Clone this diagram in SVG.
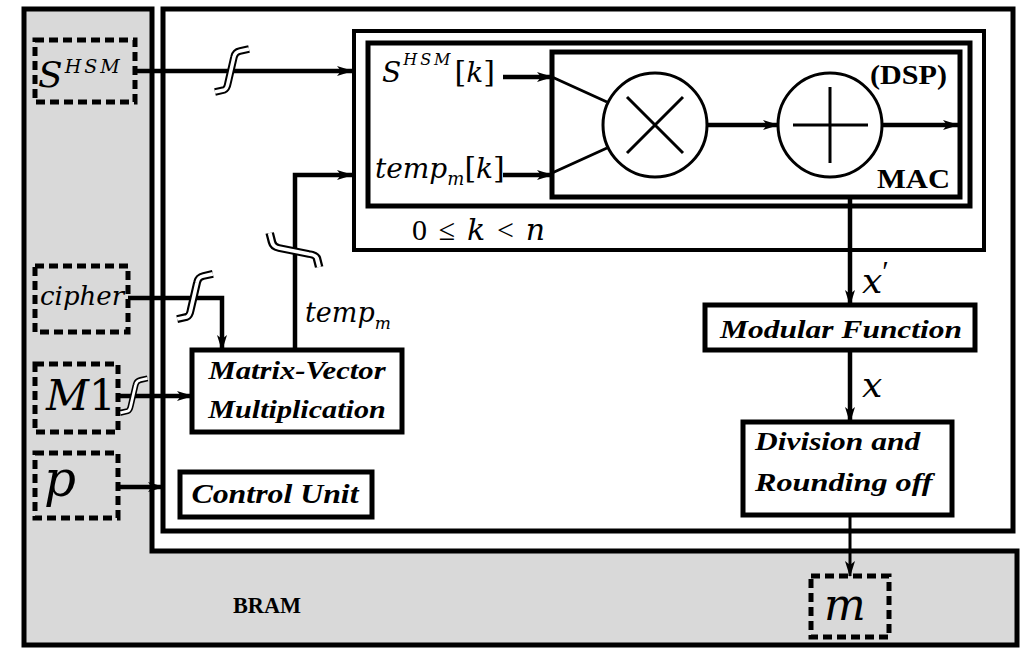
<svg xmlns="http://www.w3.org/2000/svg" width="1028" height="649" viewBox="0 0 1028 649">
<defs>
<style>
.box{fill:#fff;stroke:#000;stroke-width:5}
.nest{fill:none;stroke:#000;stroke-width:5}
.dash{fill:none;stroke:#000;stroke-width:5;stroke-dasharray:9 5}
.conn{fill:none;stroke:#000;stroke-width:4.5}
.thin{fill:none;stroke:#000;stroke-width:3}
text{font-family:'Liberation Serif','Times New Roman',serif;fill:#000}
.math{font-family:'DejaVu Serif',serif;font-style:italic;font-weight:300}
.up{font-style:normal}
.prime{font-family:'Liberation Serif',serif;font-style:normal}
.lbl{font-weight:bold;font-style:italic;font-size:26px}
.bold{font-weight:bold}
</style>
<marker id="ah" viewBox="0 0 16 10" refX="15" refY="5" markerWidth="16" markerHeight="10" markerUnits="userSpaceOnUse" orient="auto"><path d="M0,0 L16,5 L0,10 L4,5 z" fill="#000"/></marker>
<g id="brk">
<path d="M-17,21 L-8,19 Q-5,18 -4,12 L2,-14 Q3,-19 8,-20 L17,-22" fill="none" stroke="#000" stroke-width="7.5"/>
<path d="M-17,21 L-8,19 Q-5,18 -4,12 L2,-14 Q3,-19 8,-20 L17,-22" fill="none" stroke="#fff" stroke-width="3.5"/>
</g>
</defs>
<rect width="1028" height="649" fill="#fff"/>

<g id="bram">
<path d="M24,9 H152 V551 H1017 V645 H24 Z" fill="#d9d9d9" stroke="#000" stroke-width="5"/>
<text class="bold" x="233" y="613" font-size="24" textLength="68" lengthAdjust="spacingAndGlyphs">BRAM</text>
</g>

<g id="fpga">
<rect x="163" y="9" width="850" height="522" class="box"/>
</g>

<g id="s-hsm">
<rect x="35" y="40" width="100" height="62" class="dash"/>
<text class="math" x="38" y="87" font-size="36">S<tspan font-size="19" dy="-14" dx="2" letter-spacing="3">HSM</tspan></text>
</g>

<g id="cipher">
<rect x="35" y="266" width="93" height="66" class="dash"/>
<text class="math" x="40" y="305" font-size="26">cipher</text>
</g>

<g id="m1">
<rect x="35" y="364" width="83" height="68" class="dash"/>
<text class="math" x="46" y="410" font-size="42">M<tspan class="up">1</tspan></text>
</g>

<g id="p">
<rect x="35" y="453" width="83" height="65" class="dash"/>
<text class="math" x="44" y="496" font-size="50">p</text>
</g>

<g id="m">
<rect x="811" y="576" width="78" height="61" class="dash"/>
<text class="math" x="824" y="620" font-size="44">m</text>
</g>

<g id="loop">
<rect x="354" y="31" width="630" height="219" fill="none" stroke="#000" stroke-width="4"/>
<text x="412" y="240" font-size="30" textLength="133" lengthAdjust="spacing">0 ≤ <tspan class="math">k</tspan> &lt; <tspan class="math">n</tspan></text>
</g>

<g id="inner">
<rect x="368" y="43" width="602" height="163" class="nest"/>
<text class="math" x="382" y="82" font-size="28">S<tspan font-size="16" dy="-17" dx="2" letter-spacing="3">HSM</tspan><tspan class="up" font-size="30" dy="17" dx="1">[</tspan>k<tspan class="up" font-size="30">]</tspan></text>
<text class="math" x="375" y="178" font-size="28">temp<tspan font-size="18" dy="7">m</tspan><tspan class="up" font-size="30" dy="-7">[</tspan>k<tspan class="up" font-size="30">]</tspan></text>
</g>

<g id="mac">
<rect x="552" y="52" width="408" height="145" class="nest"/>
<circle cx="655" cy="125" r="52" class="thin"/>
<path d="M627,97 L683,153 M627,153 L683,97" class="thin"/>
<circle cx="830" cy="125" r="52" class="thin"/>
<path d="M793,125 H868 M830,87 V163" class="thin"/>
<text class="bold" x="870" y="84" font-size="28" textLength="77" lengthAdjust="spacingAndGlyphs">(DSP)</text>
<text class="bold" x="877" y="188" font-size="28" textLength="73" lengthAdjust="spacingAndGlyphs">MAC</text>
</g>

<g id="matvec">
<rect x="192" y="350" width="210" height="82" class="box"/>
<text class="lbl" transform="translate(297,379) scale(1.18,1)" text-anchor="middle">Matrix-Vector</text>
<text class="lbl" transform="translate(297,418) scale(1.16,1)" text-anchor="middle">Multiplication</text>
</g>

<g id="control">
<rect x="180" y="472" width="192" height="45" class="box"/>
<text class="lbl" transform="translate(275,503) scale(1.2,1)" text-anchor="middle" style="font-size:26.5px">Control Unit</text>
</g>

<g id="modular">
<rect x="705" y="305" width="270" height="45" class="box"/>
<text class="lbl" transform="translate(841,338) scale(1.21,1)" text-anchor="middle">Modular Function</text>
</g>

<g id="division">
<rect x="743" y="422" width="209" height="93" class="box"/>
<text class="lbl" transform="translate(755,450) scale(1.21,1)">Division and</text>
<text class="lbl" transform="translate(755,491) scale(1.24,1)">Rounding off</text>
</g>

<g id="connectors">
<path d="M135,71 H352" class="conn" marker-end="url(#ah)"/>
<path d="M295,350 V175 H352" class="conn" marker-end="url(#ah)"/>
<path d="M128,298 H222 V350" class="conn" marker-end="url(#ah)"/>
<path d="M118,396 H192" class="conn" marker-end="url(#ah)"/>
<path d="M118,487 H163" class="conn" marker-end="url(#ah)"/>
<path d="M503,77 H552" class="conn" marker-end="url(#ah)"/>
<path d="M503,175 H552" class="conn" marker-end="url(#ah)"/>
<path d="M552,77 L607,102 M552,173 L607,148" class="thin"/>
<path d="M707,125 H778" class="conn" marker-end="url(#ah)"/>
<path d="M882,125 H958" class="conn" marker-end="url(#ah)"/>
<path d="M850,197 V305" class="conn" marker-end="url(#ah)"/>
<path d="M850,350 V422" class="conn" marker-end="url(#ah)"/>
<path d="M850,515 V576" class="thin" marker-end="url(#ah)"/>
<use href="#brk" transform="translate(232,71)"/>
<use href="#brk" transform="translate(195,297) scale(1.05)"/>
<use href="#brk" transform="translate(134,396) scale(0.8)"/>
<use href="#brk" transform="translate(295,250) rotate(-90) scale(1,1.15)"/>
<text class="math" x="305" y="322" font-size="27">temp<tspan font-size="17" dy="7">m</tspan></text>
<text class="math" x="862" y="293" font-size="36">x<tspan class="prime" font-size="30" dy="-12">′</tspan></text>
<text class="math" x="862" y="397" font-size="36">x</text>
</g>
</svg>
